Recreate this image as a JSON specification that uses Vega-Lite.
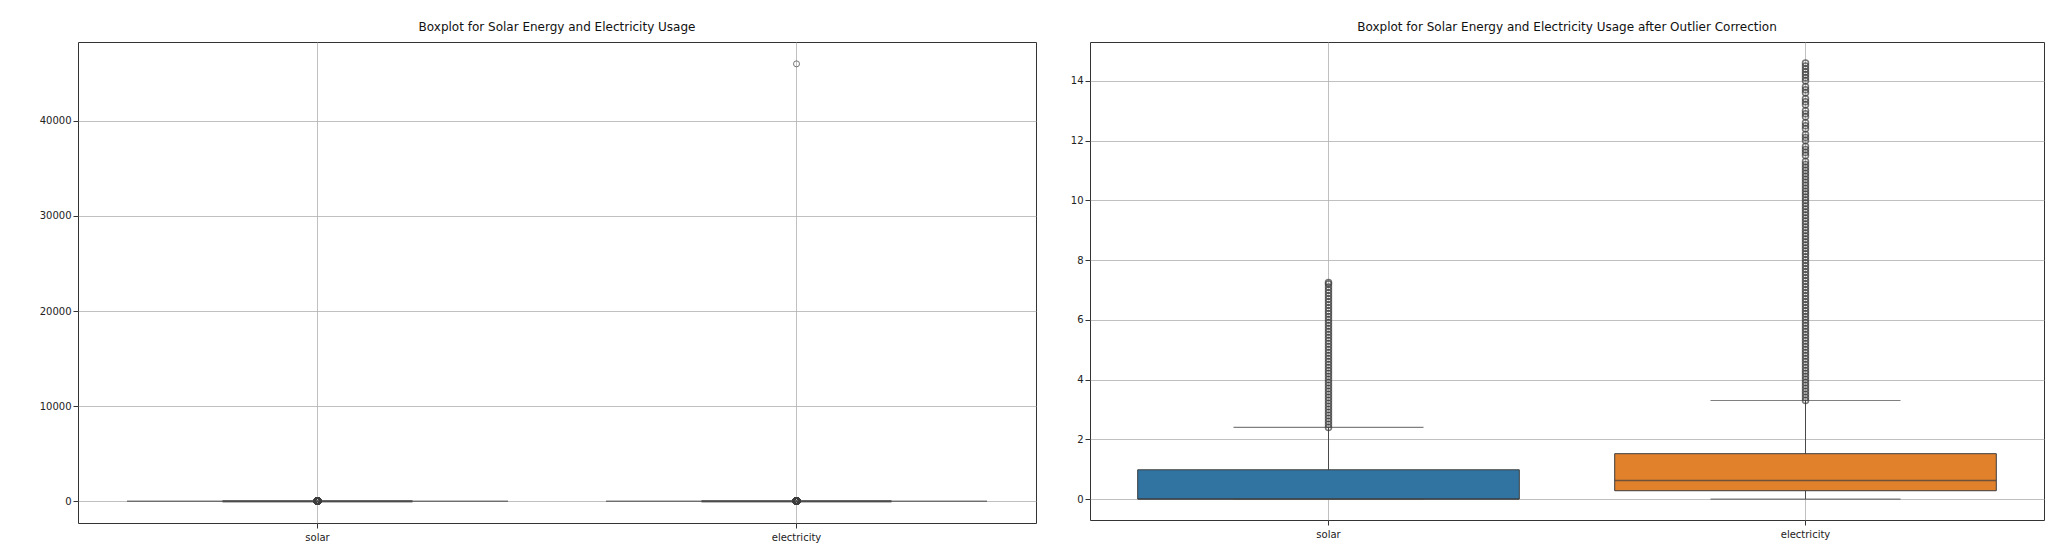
{
  "$schema": "https://vega.github.io/schema/vega-lite/v6.json",
  "padding": {"left": 38, "top": 20, "right": 10, "bottom": 10},
  "spacing": 32,
  "background": "white",
  "config": {
    "font": "DejaVu Sans",
    "view": {"stroke": "#333333", "strokeWidth": 1},
    "title": {"fontSize": 12, "fontWeight": "normal", "color": "#111", "offset": 8},
    "axis": {"labelFontSize": 10, "labelColor": "#222", "tickColor": "#333", "domain": false, "gridColor": "#b0b0b0", "gridWidth": 0.8, "title": null}
  },
  "datasets": {
    "stats": [
      {"cat": "solar", "lo": 0, "q1": 0, "med": 0, "q3": 0.98, "hi": 2.4},
      {"cat": "electricity", "lo": 0, "q1": 0.28, "med": 0.62, "q3": 1.52, "hi": 3.3}
    ],
    "outliers": [
      {"cat": "solar", "value": 2.4}, {"cat": "solar", "value": 2.5}, {"cat": "solar", "value": 2.6}, {"cat": "solar", "value": 2.7}, {"cat": "solar", "value": 2.8}, {"cat": "solar", "value": 2.9},
      {"cat": "solar", "value": 3.0}, {"cat": "solar", "value": 3.1}, {"cat": "solar", "value": 3.2}, {"cat": "solar", "value": 3.3}, {"cat": "solar", "value": 3.4}, {"cat": "solar", "value": 3.5},
      {"cat": "solar", "value": 3.6}, {"cat": "solar", "value": 3.7}, {"cat": "solar", "value": 3.8}, {"cat": "solar", "value": 3.9}, {"cat": "solar", "value": 4.0}, {"cat": "solar", "value": 4.1},
      {"cat": "solar", "value": 4.2}, {"cat": "solar", "value": 4.3}, {"cat": "solar", "value": 4.4}, {"cat": "solar", "value": 4.5}, {"cat": "solar", "value": 4.6}, {"cat": "solar", "value": 4.7},
      {"cat": "solar", "value": 4.8}, {"cat": "solar", "value": 4.9}, {"cat": "solar", "value": 5.0}, {"cat": "solar", "value": 5.1}, {"cat": "solar", "value": 5.2}, {"cat": "solar", "value": 5.3},
      {"cat": "solar", "value": 5.4}, {"cat": "solar", "value": 5.5}, {"cat": "solar", "value": 5.6}, {"cat": "solar", "value": 5.7}, {"cat": "solar", "value": 5.8}, {"cat": "solar", "value": 5.9},
      {"cat": "solar", "value": 6.0}, {"cat": "solar", "value": 6.1}, {"cat": "solar", "value": 6.2}, {"cat": "solar", "value": 6.3}, {"cat": "solar", "value": 6.4}, {"cat": "solar", "value": 6.5},
      {"cat": "solar", "value": 6.6}, {"cat": "solar", "value": 6.7}, {"cat": "solar", "value": 6.8}, {"cat": "solar", "value": 6.9}, {"cat": "solar", "value": 7.0}, {"cat": "solar", "value": 7.1},
      {"cat": "solar", "value": 7.2}, {"cat": "solar", "value": 7.25},
      {"cat": "electricity", "value": 3.3}, {"cat": "electricity", "value": 3.4}, {"cat": "electricity", "value": 3.5}, {"cat": "electricity", "value": 3.6}, {"cat": "electricity", "value": 3.7}, {"cat": "electricity", "value": 3.8},
      {"cat": "electricity", "value": 3.9}, {"cat": "electricity", "value": 4.0}, {"cat": "electricity", "value": 4.1}, {"cat": "electricity", "value": 4.2}, {"cat": "electricity", "value": 4.3}, {"cat": "electricity", "value": 4.4},
      {"cat": "electricity", "value": 4.5}, {"cat": "electricity", "value": 4.6}, {"cat": "electricity", "value": 4.7}, {"cat": "electricity", "value": 4.8}, {"cat": "electricity", "value": 4.9}, {"cat": "electricity", "value": 5.0},
      {"cat": "electricity", "value": 5.1}, {"cat": "electricity", "value": 5.2}, {"cat": "electricity", "value": 5.3}, {"cat": "electricity", "value": 5.4}, {"cat": "electricity", "value": 5.5}, {"cat": "electricity", "value": 5.6},
      {"cat": "electricity", "value": 5.7}, {"cat": "electricity", "value": 5.8}, {"cat": "electricity", "value": 5.9}, {"cat": "electricity", "value": 6.0}, {"cat": "electricity", "value": 6.1}, {"cat": "electricity", "value": 6.2},
      {"cat": "electricity", "value": 6.3}, {"cat": "electricity", "value": 6.4}, {"cat": "electricity", "value": 6.5}, {"cat": "electricity", "value": 6.6}, {"cat": "electricity", "value": 6.7}, {"cat": "electricity", "value": 6.8},
      {"cat": "electricity", "value": 6.9}, {"cat": "electricity", "value": 7.0}, {"cat": "electricity", "value": 7.1}, {"cat": "electricity", "value": 7.2}, {"cat": "electricity", "value": 7.3}, {"cat": "electricity", "value": 7.4},
      {"cat": "electricity", "value": 7.5}, {"cat": "electricity", "value": 7.6}, {"cat": "electricity", "value": 7.7}, {"cat": "electricity", "value": 7.8}, {"cat": "electricity", "value": 7.9}, {"cat": "electricity", "value": 8.0},
      {"cat": "electricity", "value": 8.1}, {"cat": "electricity", "value": 8.2}, {"cat": "electricity", "value": 8.3}, {"cat": "electricity", "value": 8.4}, {"cat": "electricity", "value": 8.5}, {"cat": "electricity", "value": 8.6},
      {"cat": "electricity", "value": 8.7}, {"cat": "electricity", "value": 8.8}, {"cat": "electricity", "value": 8.9}, {"cat": "electricity", "value": 9.0}, {"cat": "electricity", "value": 9.1}, {"cat": "electricity", "value": 9.2},
      {"cat": "electricity", "value": 9.3}, {"cat": "electricity", "value": 9.4}, {"cat": "electricity", "value": 9.5}, {"cat": "electricity", "value": 9.6}, {"cat": "electricity", "value": 9.7}, {"cat": "electricity", "value": 9.8},
      {"cat": "electricity", "value": 9.9}, {"cat": "electricity", "value": 10.0}, {"cat": "electricity", "value": 10.1}, {"cat": "electricity", "value": 10.2}, {"cat": "electricity", "value": 10.3}, {"cat": "electricity", "value": 10.4},
      {"cat": "electricity", "value": 10.5}, {"cat": "electricity", "value": 10.6}, {"cat": "electricity", "value": 10.7}, {"cat": "electricity", "value": 10.8}, {"cat": "electricity", "value": 10.9}, {"cat": "electricity", "value": 11.0},
      {"cat": "electricity", "value": 11.1}, {"cat": "electricity", "value": 11.2}, {"cat": "electricity", "value": 11.3}, {"cat": "electricity", "value": 11.5}, {"cat": "electricity", "value": 11.6}, {"cat": "electricity", "value": 11.7},
      {"cat": "electricity", "value": 11.8}, {"cat": "electricity", "value": 12.0}, {"cat": "electricity", "value": 12.1}, {"cat": "electricity", "value": 12.2}, {"cat": "electricity", "value": 12.4}, {"cat": "electricity", "value": 12.5},
      {"cat": "electricity", "value": 12.6}, {"cat": "electricity", "value": 12.8}, {"cat": "electricity", "value": 12.9}, {"cat": "electricity", "value": 13.0}, {"cat": "electricity", "value": 13.2}, {"cat": "electricity", "value": 13.3},
      {"cat": "electricity", "value": 13.4}, {"cat": "electricity", "value": 13.6}, {"cat": "electricity", "value": 13.7}, {"cat": "electricity", "value": 13.8}, {"cat": "electricity", "value": 14.0}, {"cat": "electricity", "value": 14.1},
      {"cat": "electricity", "value": 14.2}, {"cat": "electricity", "value": 14.3}, {"cat": "electricity", "value": 14.4}, {"cat": "electricity", "value": 14.5}, {"cat": "electricity", "value": 14.6}
    ],
    "extreme": [
      {"cat": "electricity", "value": 46000}
    ]
  },
  "hconcat": [
    {
      "title": "Boxplot for Solar Energy and Electricity Usage",
      "width": 958,
      "height": 481,
      "encoding": {
        "x": {"field": "cat", "type": "nominal", "sort": ["solar", "electricity"], "scale": {"padding": 0}, "axis": {"labelAngle": 0, "grid": true, "bandPosition": 0.5, "labelPadding": 4}}
      },
      "layer": [
        {
          "data": {"name": "stats"},
          "mark": {"type": "rule", "color": "#4a4a4a"},
          "encoding": {"y": {"field": "lo", "type": "quantitative", "scale": {"domain": [-2300, 48300], "nice": false, "zero": false}, "axis": {"values": [0, 10000, 20000, 30000, 40000], "format": "d", "grid": true}}, "y2": {"field": "hi"}}
        },
        {
          "data": {"name": "stats"},
          "mark": {"type": "tick", "color": "#4a4a4a", "thickness": 1.5},
          "encoding": {"y": {"field": "q1", "type": "quantitative"}, "size": {"value": 381}}
        },
        {
          "data": {"name": "stats"},
          "mark": {"type": "tick", "color": "#3d3d3d", "thickness": 2.5},
          "encoding": {"y": {"field": "med", "type": "quantitative"}, "size": {"value": 190}}
        },
        {
          "data": {"name": "outliers"},
          "mark": {"type": "point", "shape": "circle", "filled": false, "color": "#3d3d3d", "strokeWidth": 1.5, "size": 36},
          "encoding": {"y": {"field": "value", "type": "quantitative"}}
        },
        {
          "data": {"name": "extreme"},
          "mark": {"type": "point", "shape": "circle", "filled": false, "color": "#3d3d3d", "strokeWidth": 1, "size": 36},
          "encoding": {"y": {"field": "value", "type": "quantitative"}}
        }
      ]
    },
    {
      "title": "Boxplot for Solar Energy and Electricity Usage after Outlier Correction",
      "width": 954,
      "height": 478,
      "encoding": {
        "x": {"field": "cat", "type": "nominal", "sort": ["solar", "electricity"], "scale": {"padding": 0}, "axis": {"labelAngle": 0, "grid": true, "bandPosition": 0.5, "labelPadding": 4}}
      },
      "layer": [
        {
          "data": {"name": "stats"},
          "mark": {"type": "rule", "color": "#4a4a4a"},
          "encoding": {"y": {"field": "lo", "type": "quantitative", "scale": {"domain": [-0.7, 15.3], "nice": false, "zero": false}, "axis": {"values": [0, 2, 4, 6, 8, 10, 12, 14], "grid": true}}, "y2": {"field": "hi"}}
        },
        {
          "data": {"name": "stats"},
          "mark": {"type": "bar", "stroke": "#3d3d3d", "strokeWidth": 1, "width": {"band": 0.8}},
          "encoding": {
            "y": {"field": "q1", "type": "quantitative"},
            "y2": {"field": "q3"},
            "color": {"field": "cat", "type": "nominal", "scale": {"domain": ["solar", "electricity"], "range": ["#3274a1", "#e1812c"]}, "legend": null}
          }
        },
        {
          "data": {"name": "stats"},
          "mark": {"type": "tick", "color": "#3d3d3d", "thickness": 1.5},
          "encoding": {"y": {"field": "med", "type": "quantitative"}, "size": {"value": 381}}
        },
        {
          "data": {"name": "stats"},
          "mark": {"type": "tick", "color": "#4a4a4a", "thickness": 1.2},
          "encoding": {"y": {"field": "lo", "type": "quantitative"}, "size": {"value": 190}}
        },
        {
          "data": {"name": "stats"},
          "mark": {"type": "tick", "color": "#4a4a4a", "thickness": 1.2},
          "encoding": {"y": {"field": "hi", "type": "quantitative"}, "size": {"value": 190}}
        },
        {
          "data": {"name": "outliers"},
          "mark": {"type": "point", "shape": "circle", "filled": false, "color": "#3d3d3d", "strokeWidth": 1.5, "size": 36},
          "encoding": {"y": {"field": "value", "type": "quantitative"}}
        }
      ]
    }
  ]
}
